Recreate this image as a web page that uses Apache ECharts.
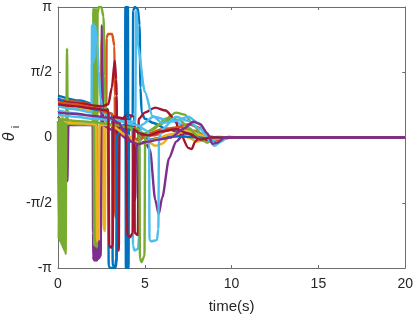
<!DOCTYPE html>
<html>
<head>
<meta charset="utf-8">
<script src="https://cdn.jsdelivr.net/npm/echarts@6/dist/echarts.min.js"></script>
<style>html,body{margin:0;padding:0;background:#fff}#c{width:416px;height:319px}</style>
</head>
<body>
<div id="c"></div>
<script>
// Tick labels
const xTicks = [0, 5, 10, 15, 20];
const yTickLabels = ['-π', '-π/2', '0', 'π/2', 'π'];

// Series values: [time (s), theta (rad)]
const blue1 = [[0,1.01],[1.26,0.89],[2.41,0.75],[2.88,0.68],[2.92,-3.1],[3.0,-3.14],[3.3,-3.14],[3.38,-3.0],[3.42,0.15],[3.6,0.28],[3.86,0.3],[3.88,3.14],[3.91,-3.14],[3.94,3.14],[3.97,-3.14],[4.0,3.14],[4.03,-3.14],[4.06,0.25],[4.2,0.5],[4.3,0.55],[4.33,3.05],[4.42,3.14],[4.6,3.1],[4.7,2.7],[4.75,1.2],[4.82,0.6],[5.0,0.45],[5.5,0.35],[6.2,0.22],[7.0,0.12],[8.0,0.05],[9.0,0.01],[10,0],[20,0]];
const orange1 = [[0,0.92],[1,0.86],[2,0.79],[2.6,0.73],[2.78,0.7],[2.8,2.4],[2.88,2.49],[3.12,2.49],[3.25,2.2],[3.27,1.0],[3.3,-1.9],[3.38,-1.95],[3.42,0.3],[3.8,0.15],[4.1,0.02],[4.6,-0.1],[5.2,0.1],[6,0.2],[7,0.25],[8,0.15],[8.6,0],[9,-0.05],[9.5,0],[20,0]];
const yellow1 = [[0,0.75],[1.2,0.68],[2.3,0.62],[2.45,0.6],[2.5,2.35],[2.57,2.3],[2.63,-2.2],[2.7,-2.25],[2.75,0.5],[3.5,0.45],[4.2,0.35],[4.8,0.1],[5.2,-0.1],[5.6,-0.2],[6.0,-0.15],[6.5,0.05],[7,0.1],[7.5,0.0],[8,-0.1],[8.5,-0.05],[9.2,0.02],[10,0],[20,0]];
const purple1 = [[0,0.5],[0.45,0.32],[0.52,0.31],[0.54,-1.05],[0.58,-1.05],[0.6,0.3],[2.0,0.3],[2.02,-2.3],[2.04,-2.95],[2.07,-2.3],[2.1,-2.97],[2.13,-2.3],[2.16,-2.97],[2.19,-2.35],[2.22,-2.97],[2.25,-2.4],[2.28,-2.95],[2.31,-2.45],[2.34,-2.92],[2.37,-2.5],[2.4,-2.9],[2.43,-2.6],[2.46,-2.85],[2.5,0.3],[2.53,2.7],[2.57,2.7],[2.6,0.3],[3.0,0.2],[3.5,0.1],[4.0,-0.05],[4.3,-0.1],[4.4,-1.5],[4.45,-1.5],[4.5,-0.2],[5.0,-0.1],[5.3,-0.3],[5.6,-1.5],[5.8,-1.85],[6.0,-1.45],[6.4,-0.5],[6.8,-0.1],[7.3,0.1],[8,0.1],[8.5,0],[9,-0.08],[9.5,0],[10,0],[20,0]];
const green1 = [[0,0.4],[0.04,-2.45],[0.08,0.4],[0.12,-2.5],[0.16,0.4],[0.2,-2.58],[0.24,0.4],[0.28,-2.65],[0.32,0.38],[0.36,-2.72],[0.4,0.36],[0.44,-2.8],[0.48,0.35],[0.52,2.14],[0.56,0.33],[1.5,0.31],[2.0,0.3],[2.04,3.1],[2.08,-2.6],[2.12,3.1],[2.16,-2.62],[2.2,3.1],[2.24,-2.65],[2.28,3.0],[2.35,3.14],[2.5,3.14],[2.62,2.9],[2.7,1.5],[2.75,0.4],[3.0,0.3],[3.5,0.25],[4.0,0.2],[4.6,0.15],[5.0,0.1],[5.5,0.2],[6.2,0.45],[6.8,0.6],[7.3,0.55],[7.8,0.3],[8.3,0.05],[8.7,-0.1],[9.2,0],[10,0],[20,0]];
const lightblue1 = [[0,0.75],[1,0.68],[1.93,0.6],[1.96,2.7],[1.99,1.8],[2.02,2.75],[2.05,1.8],[2.08,2.72],[2.11,1.9],[2.14,2.68],[2.25,2.3],[2.35,1.6],[2.45,0.95],[2.6,0.6],[3.0,0.5],[3.5,0.45],[4.28,0.35],[4.32,-2.6],[4.4,-2.72],[4.62,-2.68],[4.66,-2.4],[4.7,0.0],[4.8,0.3],[5.5,0.5],[6.5,0.4],[7.3,0.3],[8,0.1],[8.6,-0.12],[9,-0.06],[9.5,0],[20,0]];
const darkred1 = [[0,0.9],[1.2,0.82],[2.5,0.75],[2.9,0.8],[3.1,1.2],[3.27,1.85],[3.35,1.4],[3.38,1.0],[3.42,-2.7],[3.5,-2.72],[3.55,0.4],[4.0,0.55],[4.4,0.5],[4.42,-2.3],[4.6,-2.35],[4.65,0.45],[5.0,0.6],[5.6,0.72],[6.2,0.65],[6.7,0.45],[7.1,0.05],[7.5,-0.25],[7.7,-0.28],[7.9,-0.1],[8.1,-0.02],[8.4,-0.08],[8.8,0],[20,0]];
const blue2 = [[0,0.95],[0.5,0.82],[1.5,0.73],[2.5,0.65],[3.12,0.57],[3.15,-3.08],[3.3,-3.1],[3.36,-2.9],[3.4,0.05],[3.7,0.2],[3.98,0.22],[4.0,-3.14],[4.03,3.14],[4.06,-3.14],[4.09,0.35],[4.3,0.25],[4.8,0.05],[5.3,-0.05],[6,0.0],[7,0.03],[8,0],[20,0]];
const orange2 = [[0,0.85],[1,0.8],[2,0.72],[3,0.58],[3.5,0.4],[3.8,0.08],[4.2,-0.08],[4.8,0.0],[5.5,0.05],[6.5,0.2],[7.5,0.32],[8.3,0.22],[8.8,0.0],[9.2,-0.06],[10,0],[20,0]];
const yellow2 = [[0,0.65],[0.6,0.35],[2.0,0.33],[2.2,0.3],[2.25,-2.5],[2.32,-2.4],[2.4,0.3],[3,0.3],[4,0.05],[4.5,-0.1],[5,-0.15],[5.5,-0.05],[6.5,0.08],[7.5,0.15],[8.3,0.05],[9,-0.03],[10,0],[20,0]];
const green2 = [[0,0.45],[1,0.4],[2,0.37],[3,0.32],[4,0.25],[4.68,0.2],[4.72,-2.9],[4.8,-3.0],[4.98,-2.85],[5.02,0.0],[5.2,0.15],[5.8,0.3],[6.5,0.45],[7.0,0.42],[7.6,0.2],[8.2,-0.05],[8.6,-0.12],[9.0,-0.02],[9.5,0],[20,0]];
const lightblue2 = [[0,0.55],[1,0.5],[2,0.45],[3,0.42],[4.45,0.38],[4.5,3.05],[4.55,3.0],[4.6,2.2],[5.0,1.1],[5.44,0.52],[6,0.35],[6.8,0.4],[7.5,0.5],[8.1,0.35],[8.6,0.0],[9,-0.2],[9.4,-0.1],[9.8,0.02],[10.5,0],[20,0]];
const lightblue3 = [[0,0.65],[1.5,0.55],[3,0.45],[4.5,0.3],[5.2,0.15],[5.25,-0.2],[5.27,-2.45],[5.35,-2.5],[5.7,-2.47],[5.78,-2.2],[5.82,0.0],[6.0,0.2],[6.8,0.5],[7.5,0.4],[8.2,0.2],[8.8,-0.1],[9.3,0],[20,0]];
const darkred2 = [[0,0.8],[1,0.75],[2,0.7],[2.9,0.65],[2.95,-2.6],[3.05,-2.65],[3.15,-2.6],[3.2,0.5],[3.9,0.45],[4.0,-2.35],[4.15,-2.4],[4.3,-2.3],[4.35,0.2],[4.7,0.1],[5.2,0.05],[6,0.15],[6.8,0.2],[7.5,0.1],[8.2,-0.05],[8.8,0],[20,0]];
const purple2 = [[0,0.6],[1,0.57],[2,0.52],[3,0.47],[3.5,0.35],[3.8,0.15],[4.2,-0.1],[4.6,-0.16],[5.2,-0.1],[5.8,-0.05],[6.5,0.0],[7.2,0.2],[7.8,0.38],[8.2,0.32],[8.6,0.1],[8.9,-0.15],[9.2,-0.12],[9.6,0],[10,0],[20,0]];

const C = {blue:'#0072BD', orange:'#D95319', yellow:'#EDB120', purple:'#7E2F8E', green:'#77AC30', lightblue:'#4DBEEE', darkred:'#A2142F'};
const seriesList = [
  [blue1, C.blue], [orange1, C.orange], [yellow1, C.yellow], [purple1, C.purple],
  [green1, C.green], [lightblue1, C.lightblue], [darkred1, C.darkred],
  [blue2, C.blue], [orange2, C.orange], [yellow2, C.yellow], [green2, C.green],
  [lightblue2, C.lightblue], [lightblue3, C.lightblue], [darkred2, C.darkred], [purple2, C.purple]
];

const axisColor = '#6e6e6e';
const textColor = '#262626';
const font = 'Liberation Sans, Arial, Helvetica, sans-serif';
const chart = echarts.init(document.getElementById('c'), null, {renderer:'canvas'});
const HALF = Math.PI / 2;
const yAxisBase = {
  type:'value', min:-Math.PI, max:Math.PI, interval:HALF,
  axisLine:{show:true, onZero:false, lineStyle:{color:axisColor, width:1}},
  axisTick:{show:true, inside:true, length:3, lineStyle:{color:axisColor}},
  splitLine:{show:false}
};
const xAxisBase = {
  type:'value', min:xTicks[0], max:xTicks[xTicks.length-1], interval:xTicks[1]-xTicks[0],
  axisLine:{show:true, onZero:false, lineStyle:{color:axisColor, width:1}},
  axisTick:{show:true, inside:true, length:3, lineStyle:{color:axisColor}},
  splitLine:{show:false}
};
chart.setOption({
  animation:false,
  backgroundColor:'#fff',
  grid:{left:58, right:9, top:2, bottom:50, containLabel:false},
  xAxis:[
    Object.assign({}, xAxisBase, {position:'bottom',
      axisLabel:{show:true, color:textColor, fontSize:14, fontFamily:font, margin:9},
      name:'time(s)', nameLocation:'middle', nameGap:31,
      nameTextStyle:{color:textColor, fontSize:15, fontFamily:font}}),
    Object.assign({}, xAxisBase, {position:'top', axisLabel:{show:false}})
  ],
  yAxis:[
    Object.assign({}, yAxisBase, {position:'left',
      axisLabel:{show:true, color:textColor, fontSize:14, fontFamily:font, margin:6,
        formatter:function(v){ return yTickLabels[Math.round(v/HALF)+2]; }}}),
    Object.assign({}, yAxisBase, {position:'right', axisLabel:{show:false}})
  ],
  graphic:[
    {type:'text', x:10, y:137, rotation:Math.PI/2,
      style:{text:'θ', font:'italic 16px ' + font, fill:textColor, align:'center', verticalAlign:'middle'}},
    {type:'text', x:16, y:127, rotation:Math.PI/2,
      style:{text:'i', font:'11px ' + font, fill:textColor, align:'center', verticalAlign:'middle'}}
  ],
  series: seriesList.map(function(s){
    return {type:'line', data:s[0], xAxisIndex:0, yAxisIndex:0, showSymbol:false, symbol:'none',
      smooth:0.25, smoothMonotone:'x', lineStyle:{color:s[1], width:2.4}, clip:true, z:2};
  })
});
</script>
</body>
</html>
